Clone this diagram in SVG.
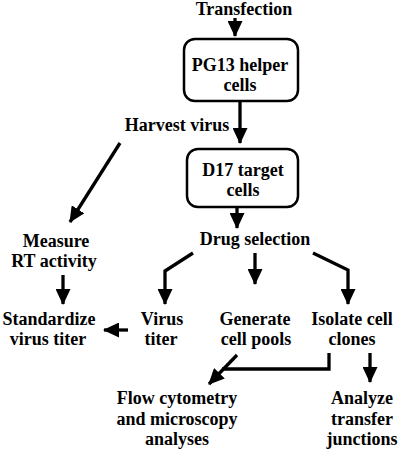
<svg xmlns="http://www.w3.org/2000/svg" width="400" height="456" viewBox="0 0 400 456">
<style>
text{font-family:'Liberation Serif','Times New Roman','DejaVu Serif',serif;font-weight:700;font-size:18px;fill:#000;text-anchor:middle}
.box{fill:#fff;stroke:#000;stroke-width:2.5}
.c{fill:none;stroke:#000;stroke-width:3.3;stroke-linejoin:miter}
</style>
<defs>
<marker id="ah" markerUnits="userSpaceOnUse" markerWidth="17" markerHeight="15" refX="15" refY="7.5" orient="auto">
<path d="M0,0 L16,7.5 L0,15 Z" fill="#000"/>
</marker>
</defs>
<rect width="400" height="456" fill="#fff"/>
<g id="connectors">
<path class="c" d="M235,18 V36" marker-end="url(#ah)"/>
<path class="c" d="M240,102 V143" marker-end="url(#ah)"/>
<path class="c" d="M120,143 L70,222" marker-end="url(#ah)"/>
<path class="c" d="M237,208 V228" marker-end="url(#ah)"/>
<path class="c" d="M63,275 V304" marker-end="url(#ah)"/>
<path class="c" d="M128,330 H104" marker-end="url(#ah)"/>
<path class="c" d="M193,253 L165,271 V304" marker-end="url(#ah)"/>
<path class="c" d="M255,253 V284" marker-end="url(#ah)"/>
<path class="c" d="M313,253 L348,270 V304" marker-end="url(#ah)"/>
<path class="c" d="M237,355 L209,384" marker-end="url(#ah)"/>
<path class="c" d="M329,353 V369 H222"/>
<path class="c" d="M370,353 V382" marker-end="url(#ah)"/>
</g>
<g id="transfection"><text x="244" y="15">Transfection</text></g>
<g id="pg13">
<rect class="box" x="184" y="39" width="114" height="62" rx="11"/>
<text x="240" y="71">PG13 helper</text>
<text x="240" y="91">cells</text>
</g>
<g id="harvest"><text x="177" y="131">Harvest virus</text></g>
<g id="d17">
<rect class="box" x="187" y="149" width="111" height="58" rx="11"/>
<text x="243" y="176">D17 target</text>
<text x="243" y="196">cells</text>
</g>
<g id="drug"><text x="255" y="245">Drug selection</text></g>
<g id="measure"><text x="56" y="247">Measure</text><text x="54" y="267">RT activity</text></g>
<g id="standardize"><text x="49" y="325">Standardize</text><text x="48" y="345">virus titer</text></g>
<g id="virus"><text x="162" y="325">Virus</text><text x="161" y="345">titer</text></g>
<g id="generate"><text x="255" y="325">Generate</text><text x="256" y="345">cell pools</text></g>
<g id="isolate"><text x="352" y="325">Isolate cell</text><text x="352" y="345">clones</text></g>
<g id="flow"><text x="177" y="404">Flow cytometry</text><text x="177" y="425">and microscopy</text><text x="177" y="445">analyses</text></g>
<g id="analyze"><text x="362" y="404">Analyze</text><text x="362" y="425">transfer</text><text x="362" y="445">junctions</text></g>
</svg>
